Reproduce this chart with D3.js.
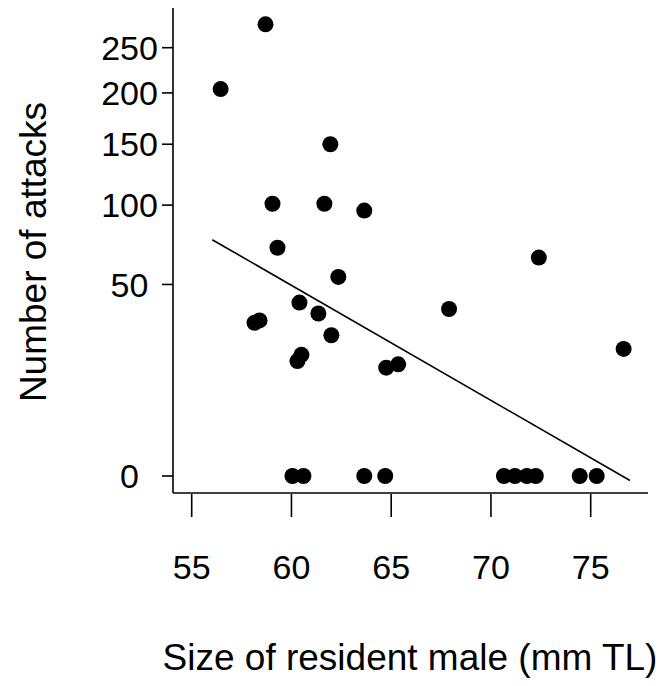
<!DOCTYPE html>
<html>
<head>
<meta charset="utf-8">
<script src="https://cdn.jsdelivr.net/npm/d3@7"></script>
<style>
  body { margin: 0; background: #fff; }
  text { font-family: "Liberation Sans", Arial, sans-serif; fill: #000; }
</style>
</head>
<body>
<div id="chart-area"></div>
<script>
// tamaño del macho residente (mm TL) y número de ataques
var sizes = [58.7, 56.45, 61.95, 59.05, 61.65, 63.65, 59.3, 62.35, 72.4, 60.4,
             61.35, 58.15, 58.4, 62.0, 67.9, 76.65, 60.5, 60.3, 64.75, 65.35,
             60.05, 60.6, 63.65, 64.7, 70.65, 71.2, 71.8, 72.25, 74.45, 75.3];
var attacks = [278, 204, 150, 101, 101, 96, 71, 54, 65, 41,
               36, 32, 33, 27, 38, 22, 20, 18, 16, 17,
               0, 0, 0, 0, 0, 0, 0, 0, 0, 0];

// recta de regresión (ajustada sobre la raíz cuadrada)
var trendX = [56.03, 76.97];
var trendY = [76.1, -0.028];

var xTicks = [55, 60, 65, 70, 75];
var yTicks = [0, 50, 100, 150, 200, 250];

var svg = d3.select("#chart-area").append("svg")
    .attr("width", 669)
    .attr("height", 686);

var x = d3.scaleLinear()
    .domain([55, 75])
    .range([191.7, 590.7]);

var y = d3.scaleSqrt()
    .domain([0, 250])
    .range([476, 47.7]);

// Ejes (tipo "L")
svg.append("line")
    .attr("x1", 173).attr("y1", 8)
    .attr("x2", 173).attr("y2", 493)
    .attr("stroke", "#000").attr("stroke-width", 1.6);

svg.append("line")
    .attr("x1", 173).attr("y1", 493)
    .attr("x2", 648).attr("y2", 493)
    .attr("stroke", "#000").attr("stroke-width", 1.6);

// Marcas y etiquetas del eje X
svg.selectAll("line.xtick")
    .data(xTicks)
    .enter()
    .append("line")
    .attr("class", "xtick")
    .attr("x1", d => x(d)).attr("x2", d => x(d))
    .attr("y1", 494).attr("y2", 517)
    .attr("stroke", "#000").attr("stroke-width", 1.6);

svg.selectAll("text.xlab")
    .data(xTicks)
    .enter()
    .append("text")
    .attr("class", "xlab")
    .attr("x", d => x(d))
    .attr("y", 579)
    .attr("text-anchor", "middle")
    .attr("font-size", "34px")
    .text(d => d);

// Marcas y etiquetas del eje Y
svg.selectAll("line.ytick")
    .data(yTicks)
    .enter()
    .append("line")
    .attr("class", "ytick")
    .attr("x1", 162).attr("x2", 173)
    .attr("y1", d => y(d)).attr("y2", d => y(d))
    .attr("stroke", "#000").attr("stroke-width", 1.6);

svg.selectAll("text.ylab")
    .data(yTicks)
    .enter()
    .append("text")
    .attr("class", "ylab")
    .attr("x", 129.5)
    .attr("y", d => y(d))
    .attr("dy", "0.36em")
    .attr("text-anchor", "middle")
    .attr("font-size", "34px")
    .text(d => d);

// Recta de tendencia
svg.append("line")
    .attr("x1", x(trendX[0])).attr("y1", y(trendY[0]))
    .attr("x2", x(trendX[1])).attr("y2", y(trendY[1]))
    .attr("stroke", "#000").attr("stroke-width", 1.6);

// Puntos
svg.selectAll("circle.dot")
    .data(sizes)
    .enter()
    .append("circle")
    .attr("class", "dot")
    .attr("cx", d => x(d))
    .attr("cy", (d, i) => y(attacks[i]))
    .attr("r", 8)
    .attr("fill", "#000");

// Títulos de los ejes
svg.append("text")
    .attr("x", 410)
    .attr("y", 670)
    .attr("text-anchor", "middle")
    .attr("font-size", "37px")
    .text("Size of resident male (mm TL)");

svg.append("text")
    .attr("transform", "translate(46,252) rotate(-90)")
    .attr("text-anchor", "middle")
    .attr("font-size", "37px")
    .text("Number of attacks");
</script>
</body>
</html>
